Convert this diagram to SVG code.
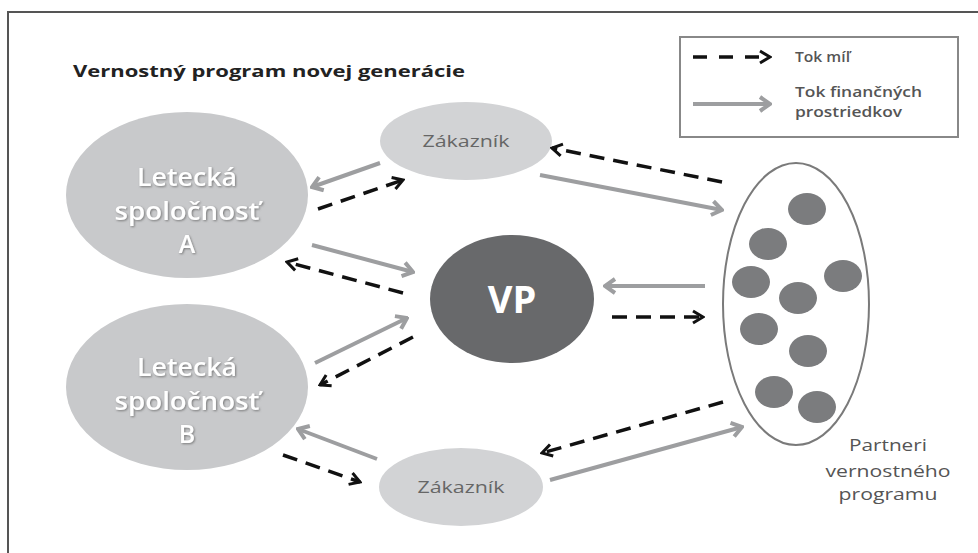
<svg xmlns="http://www.w3.org/2000/svg" width="978" height="553" viewBox="0 0 978 553">
<style>
.big{fill:#c8c9cb}
.cust{fill:#d2d3d5}
.lbl{font-family:"Open Sans","Liberation Sans",sans-serif;font-weight:600;fill:#fff;font-size:25px;text-anchor:middle}
.ctxt{font-family:"Open Sans","Liberation Sans",sans-serif;font-weight:500;fill:#666;font-size:16px;text-anchor:middle}
.ptxt{font-family:"Open Sans","Liberation Sans",sans-serif;fill:#555;font-size:17px;text-anchor:middle}
.leg{font-family:"Open Sans","Liberation Sans",sans-serif;font-weight:600;fill:#555;font-size:14px}
.dot{fill:#7b7c7e}
.mi{fill:none;stroke:#111;stroke-width:3.5;stroke-dasharray:15 9}
.fin{fill:none;stroke:#9d9ea0;stroke-width:4}
.dm{marker-end:url(#hd)}
.gm{marker-end:url(#hg)}
</style>
<defs>
<marker id="hd" viewBox="0 0 14 16" refX="12" refY="8" markerWidth="14" markerHeight="16" orient="auto" markerUnits="userSpaceOnUse"><path d="M2,2 L12,8 L2,14" fill="none" stroke="#111" stroke-width="3"/></marker>
<marker id="hg" viewBox="0 0 14 18" refX="12" refY="9" markerWidth="14" markerHeight="18" orient="auto" markerUnits="userSpaceOnUse"><path d="M2,2 L12,9 L2,16" fill="none" stroke="#9d9ea0" stroke-width="4"/></marker>
<filter id="sh" x="-10%" y="-20%" width="120%" height="140%"><feDropShadow dx="1" dy="1" stdDeviation="1" flood-color="#666" flood-opacity="0.8"/></filter>
</defs>
<rect width="978" height="553" fill="#fff"/>
<rect x="8" y="12" width="990" height="560" fill="none" stroke="#555" stroke-width="2"/>

<g id="title"><text x="73" y="77" font-family="'Open Sans','Liberation Sans',sans-serif" font-weight="700" font-size="16" fill="#222" textLength="392" lengthAdjust="spacingAndGlyphs">Vernostný program novej generácie</text></g>

<g id="legend">
<rect x="680" y="37" width="278" height="100" fill="#fff" stroke="#888" stroke-width="2"/>
<line x1="693" y1="57" x2="770" y2="57" class="mi" style="stroke-width:3.5;stroke-dasharray:14 12" marker-end="url(#hd)"/>
<line x1="693" y1="104" x2="770" y2="104" class="fin" marker-end="url(#hg)"/>
<text x="795" y="62" class="leg" textLength="55" lengthAdjust="spacingAndGlyphs">Tok míľ</text>
<text x="795" y="97" class="leg" textLength="127" lengthAdjust="spacingAndGlyphs">Tok finančných</text>
<text x="795" y="117" class="leg" textLength="107" lengthAdjust="spacingAndGlyphs">prostriedkov</text>
</g>

<g id="airlineA">
<ellipse cx="187" cy="195" rx="121" ry="83" class="big"/>
<g filter="url(#sh)"><text x="187" y="186" class="lbl" textLength="100" lengthAdjust="spacingAndGlyphs">Letecká</text><text x="187" y="220" class="lbl" textLength="145" lengthAdjust="spacingAndGlyphs">spoločnosť</text><text x="187" y="253" class="lbl">A</text></g>
</g>

<g id="airlineB">
<ellipse cx="187" cy="387" rx="121" ry="83" class="big"/>
<g filter="url(#sh)"><text x="187" y="376" class="lbl" textLength="100" lengthAdjust="spacingAndGlyphs">Letecká</text><text x="187" y="410" class="lbl" textLength="145" lengthAdjust="spacingAndGlyphs">spoločnosť</text><text x="187" y="443" class="lbl">B</text></g>
</g>

<g id="customerTop">
<ellipse cx="466" cy="141" rx="86" ry="39" class="cust"/>
<text x="466" y="147" class="ctxt" textLength="87" lengthAdjust="spacingAndGlyphs">Zákazník</text>
</g>

<g id="customerBottom">
<ellipse cx="461" cy="487" rx="82" ry="39" class="cust"/>
<text x="461" y="493" class="ctxt" textLength="87" lengthAdjust="spacingAndGlyphs">Zákazník</text>
</g>

<g id="vp">
<ellipse cx="512" cy="299" rx="82" ry="64" fill="#68696b"/>
<text x="512" y="313" font-family="'Open Sans','Liberation Sans',sans-serif" font-weight="700" font-size="38" fill="#fff" text-anchor="middle">VP</text>
</g>

<g id="partners">
<ellipse cx="796" cy="304" rx="73" ry="141" fill="#fff" stroke="#7a7a7a" stroke-width="2"/>
<ellipse cx="807" cy="209" rx="19" ry="16" class="dot"/>
<ellipse cx="768" cy="244" rx="19" ry="16" class="dot"/>
<ellipse cx="751" cy="282" rx="19" ry="16" class="dot"/>
<ellipse cx="843" cy="276" rx="19" ry="16" class="dot"/>
<ellipse cx="798" cy="298" rx="19" ry="16" class="dot"/>
<ellipse cx="759" cy="329" rx="19" ry="16" class="dot"/>
<ellipse cx="808" cy="351" rx="19" ry="16" class="dot"/>
<ellipse cx="774" cy="392" rx="19" ry="16" class="dot"/>
<ellipse cx="817" cy="407" rx="19" ry="16" class="dot"/>
<text x="888" y="451" class="ptxt" textLength="78" lengthAdjust="spacingAndGlyphs">Partneri</text>
<text x="888" y="477" class="ptxt" textLength="125" lengthAdjust="spacingAndGlyphs">vernostného</text>
<text x="888" y="500" class="ptxt" textLength="99" lengthAdjust="spacingAndGlyphs">programu</text>
</g>

<g id="connectors">
<line x1="380" y1="163" x2="312" y2="187" class="fin gm"/>
<line x1="318" y1="209" x2="403" y2="180" class="mi dm"/>
<line x1="312" y1="245" x2="413" y2="272" class="fin gm"/>
<line x1="403" y1="293" x2="287" y2="262" class="mi dm"/>
<line x1="315" y1="363" x2="407" y2="318" class="fin gm"/>
<line x1="413" y1="337" x2="320" y2="385" class="mi dm"/>
<line x1="377" y1="459" x2="298" y2="429" class="fin gm"/>
<line x1="283" y1="455" x2="360" y2="482" class="mi dm"/>
<line x1="723" y1="402" x2="542" y2="453" class="mi dm"/>
<line x1="550" y1="480" x2="742" y2="427" class="fin gm"/>
<line x1="722" y1="182" x2="552" y2="148" class="mi dm"/>
<line x1="540" y1="175" x2="722" y2="210" class="fin gm"/>
<line x1="705" y1="286" x2="605" y2="286" class="fin gm"/>
<line x1="612" y1="317" x2="703" y2="317" class="mi dm"/>
</g>
</svg>
